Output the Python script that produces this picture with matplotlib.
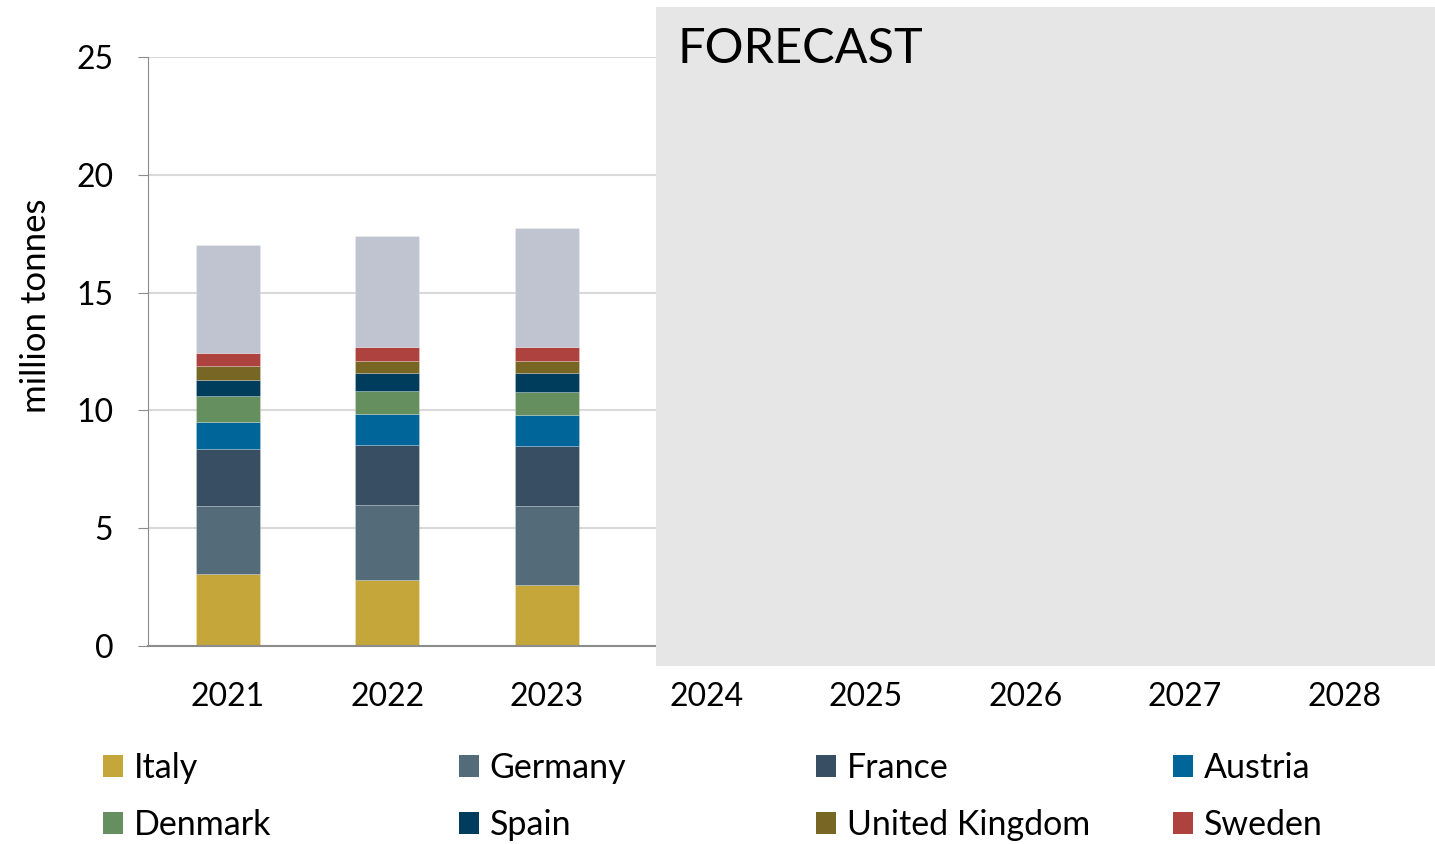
import matplotlib.pyplot as plt
from matplotlib.patches import Rectangle, Patch
import numpy as np

plt.rcParams['font.family'] = ['Lato', 'DejaVu Sans']

years = ["2021", "2022", "2023", "2024", "2025", "2026", "2027", "2028"]
countries = ["Italy", "Germany", "France", "Austria", "Denmark", "Spain",
             "United Kingdom", "Sweden"]

# million tonnes, actuals for 2021-2023 only
italy = [3.04, 2.79, 2.59]
germany = [2.90, 3.20, 3.35]
france = [2.41, 2.56, 2.53]
austria = [1.17, 1.29, 1.32]
denmark = [1.10, 0.98, 1.00]
spain = [0.68, 0.75, 0.78]
uk = [0.57, 0.54, 0.54]
sweden = [0.55, 0.57, 0.57]
others = [4.58, 4.74, 5.07]

colors = ["#C5A63A", "#546C79", "#384E63", "#006699", "#668F5F", "#003D5C",
          "#776624", "#AE423F"]
others_color = "#C0C4D1"

series = [italy, germany, france, austria, denmark, spain, uk, sweden]

fig = plt.figure(figsize=(14.35, 8.44), dpi=100)
ax = fig.add_axes([148 / 1435, (844 - 646) / 844, 1276 / 1435, 589 / 844])

x = np.arange(len(years))
xa = x[:len(italy)]
bottom = np.zeros(len(italy))
for vals, c in zip(series, colors):
    ax.bar(xa, vals, width=0.4, bottom=bottom, color=c, zorder=2,
           edgecolor=(1, 1, 1, 0.25), linewidth=0.6)
    bottom += np.array(vals)
ax.bar(xa, others, width=0.4, bottom=bottom, color=others_color, zorder=2,
       edgecolor=(1, 1, 1, 0.25), linewidth=0.6)

ax.set_xlim(-0.5, len(years) - 0.5)
ax.set_ylim(0, 25)
ax.set_yticks(range(0, 26, 5))
ax.set_xticks(x)
ax.set_xticklabels(years)
ax.yaxis.grid(True, color="#d9d9d9", linewidth=1.5, zorder=0)
ax.set_axisbelow(True)

for s in ["top", "right"]:
    ax.spines[s].set_visible(False)
ax.spines["left"].set_color("#8c8c8c")
ax.spines["bottom"].set_color("#8c8c8c")
ax.spines["bottom"].set_linewidth(1.5)
ax.tick_params(axis="y", length=7, color="#8c8c8c", pad=18, labelsize=23)
ax.tick_params(axis="x", length=0, pad=26, labelsize=23)

ax.set_ylabel("million tonnes", fontsize=25)
ax.yaxis.set_label_coords((52 - 148) / 1276, 0.577)

# forecast shading
fc_start = 2.685
box = Rectangle((fc_start, -0.034), 10, 1.119, transform=ax.get_xaxis_transform(),
                facecolor="#e6e6e6", edgecolor="none", clip_on=False, zorder=3)
ax.add_patch(box)
fig.text(677 / 1435, 1 - 49 / 844, "FORECAST", fontsize=35, va="center",
         ha="left", color="black", zorder=4)

# legend: four evenly spaced columns, two rows each
col_x = [103, 459, 816, 1173]
for i, cx in enumerate(col_x):
    handles = [Patch(facecolor=colors[i]), Patch(facecolor=colors[i + 4])]
    labels = [countries[i], countries[i + 4]]
    fig.legend(handles, labels, loc="upper left",
               bbox_to_anchor=(cx / 1435, 1 - 752 / 844), frameon=False,
               fontsize=24.5, handlelength=0.6, handleheight=0.6,
               handletextpad=0.3, labelspacing=0.73, borderpad=0,
               borderaxespad=0)

fig.savefig("out.png", dpi=100)
